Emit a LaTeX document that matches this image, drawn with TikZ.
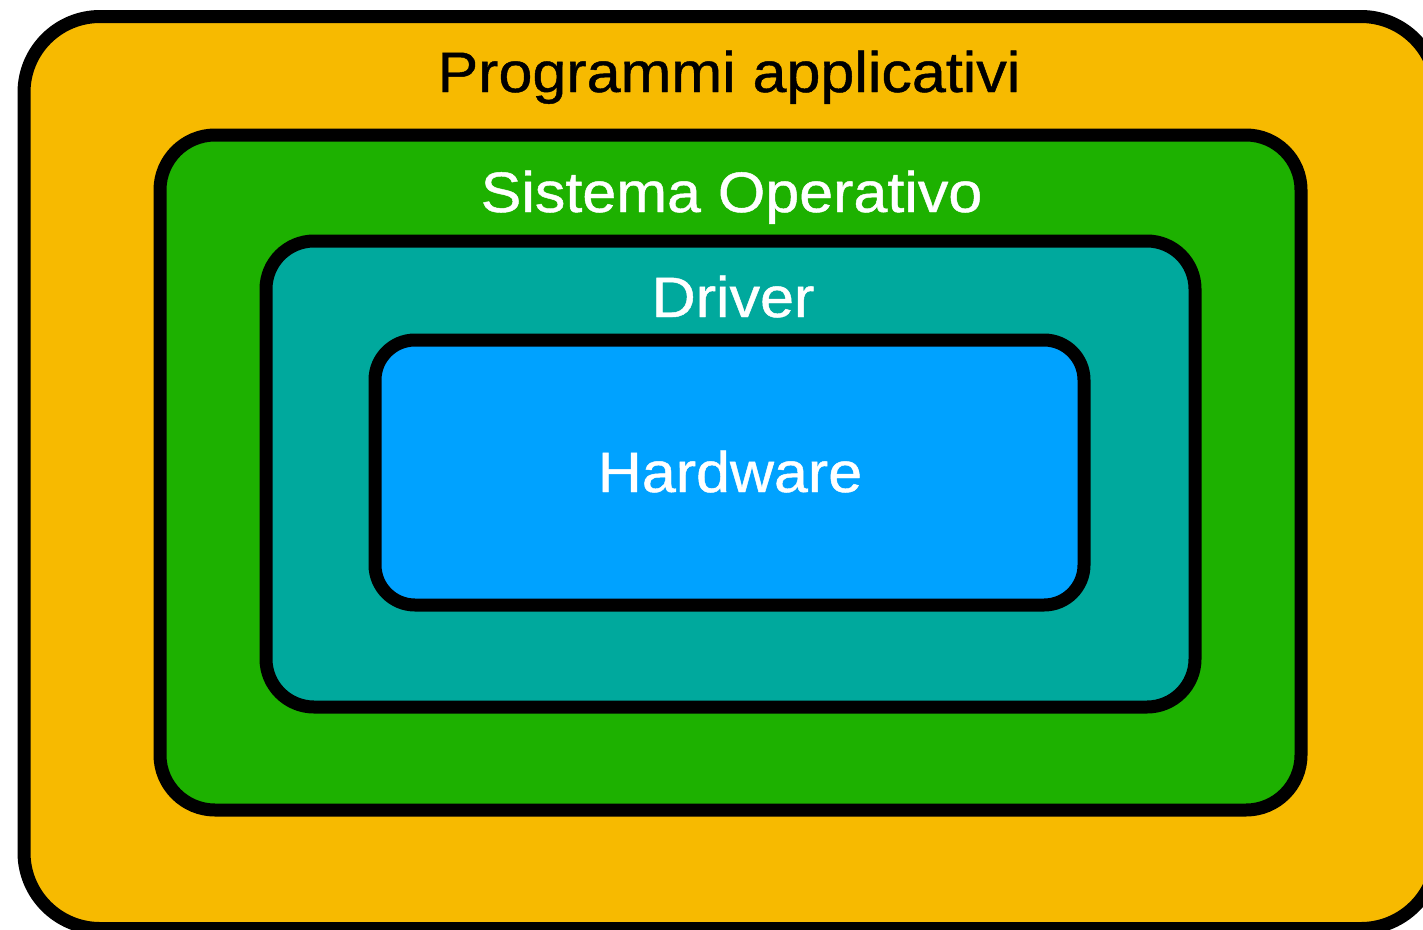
\documentclass[tikz,border=0pt]{standalone}
\usepackage{fontspec}
\setmainfont{Liberation Sans}[FakeStretch=1.07, FakeBold=0.8]
\usetikzlibrary{positioning}

\definecolor{appcol}{HTML}{F7BA00}
\definecolor{oscol}{HTML}{1DB100}
\definecolor{drvcol}{HTML}{00A99D}
\definecolor{hwcol}{HTML}{00A2FF}

\tikzset{
    layer/.style={draw=black, line width=13pt, rectangle, inner sep=0pt},
    layertext/.style={anchor=base, inner sep=0pt, font=\fontsize{57}{60}\selectfont}
}

\begin{document}
\begin{tikzpicture}[x=1pt, y=-1pt]
    \clip (0,0) rectangle (1423,929);

    % strati
    \node (app) [layer, fill=appcol, rounded corners=76pt,
        minimum width=1413pt, minimum height=912pt] at (730.5,472.5) {};
    \node (os) [layer, fill=oscol, rounded corners=55pt,
        minimum width=1141pt, minimum height=675pt] at (730.5,472.5) {};
    \node (drv) [layer, fill=drvcol, rounded corners=48pt,
        minimum width=929pt, minimum height=466pt] at (730.5,474) {};
    \node (hw) [layer, fill=hwcol, rounded corners=40pt,
        minimum width=709pt, minimum height=265pt] at (729.5,472.5) {};

    % scritte
    \node (apptxt) [layertext, text=black] at (729,92) {Programmi applicativi};
    \node (ostxt) [layertext, text=white] at (731.5,212) {Sistema Operativo};
    \node (drvtxt) [layertext, text=white] at (733,317) {Driver};
    \node (hwtxt) [layertext, text=white] at (730,492) {Hardware};
\end{tikzpicture}
\end{document}
